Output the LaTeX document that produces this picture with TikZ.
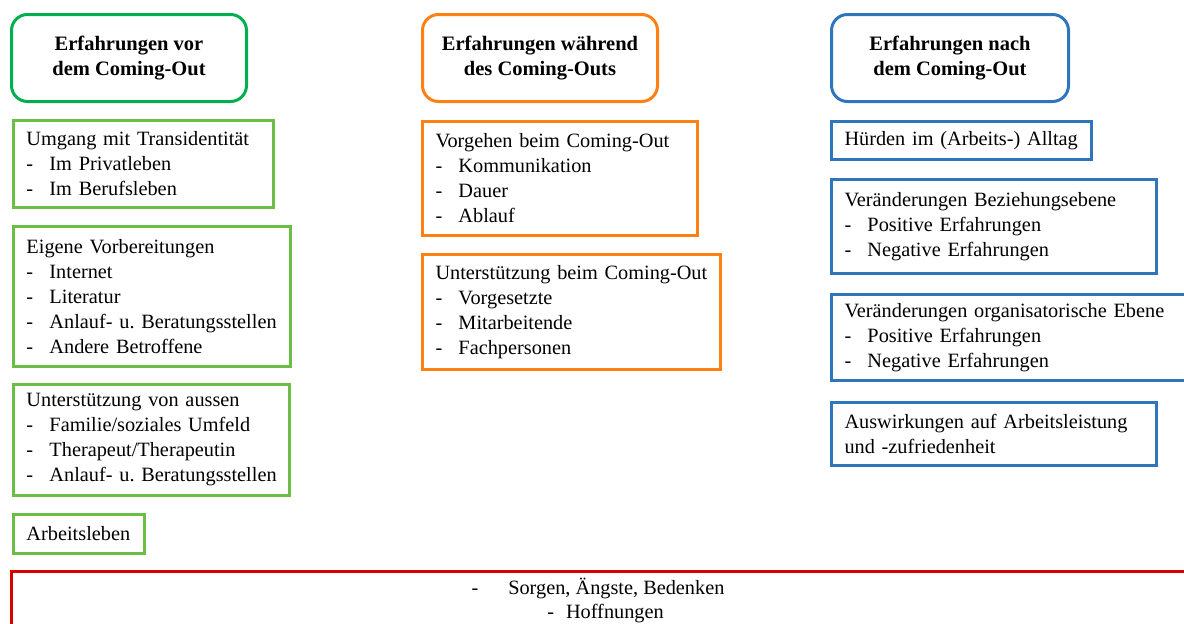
\documentclass[tikz,border=0pt]{standalone}
\usepackage{fontspec}
\setmainfont{Liberation Serif}
\frenchspacing
\definecolor{hgreen}{RGB}{0,176,80}
\definecolor{bgreen}{RGB}{106,189,69}
\definecolor{corange}{RGB}{252,128,20}
\definecolor{cblue}{RGB}{46,117,190}
\definecolor{cred}{RGB}{218,0,0}
\newcommand\itm[1]{\mbox{\makebox[23pt][l]{-}#1}}
\newcommand\ttl[1]{\mbox{#1}}
\begin{document}
\begin{tikzpicture}[x=1pt,y=-1pt,
  every node/.style={font=\fontsize{20.3}{25}\selectfont},
  hdr/.style={draw, line width=3pt, rounded corners=16pt, anchor=north west,
    align=center, minimum height=87pt, inner sep=0pt,
    font=\fontsize{20.5}{25}\selectfont\bfseries},
  boxx/.style={draw, line width=3pt, anchor=north west, align=left,
    inner xsep=13pt, inner ysep=0pt},
  gbox/.style={boxx, draw=bgreen},
  obox/.style={boxx, draw=corange},
  bbox/.style={boxx, draw=cblue}]
\useasboundingbox (0,0) rectangle (1184,624);
\clip (0,0) rectangle (1184,624);
% headers
\node[hdr, draw=hgreen, minimum width=235pt] (hg) at (10,13) {Erfahrungen vor\\dem Coming-Out};
\node[hdr, draw=corange, minimum width=235pt] (ho) at (421,13) {Erfahrungen während\\des Coming-Outs};
\node[hdr, draw=cblue, minimum width=237pt] (hb) at (830,13) {Erfahrungen nach\\dem Coming-Out};
% green column
\node[gbox, text width=234pt, minimum height=87pt] (g1) at (12,119)
  {\ttl{Umgang mit Transidentität}\\\itm{Im Privatleben}\\\itm{Im Berufsleben}};
\node[gbox, text width=251pt, minimum height=140pt] (g2) at (12,225)
  {\ttl{Eigene Vorbereitungen}\\\itm{Internet}\\\itm{Literatur}\\\itm{Anlauf- u. Beratungsstellen}\\\itm{Andere Betroffene}};
\node[gbox, text width=250pt, minimum height=111pt] (g3) at (12,383)
  {\ttl{Unterstützung von aussen}\\\itm{Familie/soziales Umfeld}\\\itm{Therapeut/Therapeutin}\\\itm{Anlauf- u. Beratungsstellen}};
\node[gbox, text width=105pt, minimum height=39pt] (g4) at (12,513)
  {\ttl{Arbeitsleben}};
% orange column
\node[obox, text width=249pt, minimum height=114pt] (o1) at (421,120)
  {\ttl{Vorgehen beim Coming-Out}\\\itm{Kommunikation}\\\itm{Dauer}\\\itm{Ablauf}};
\node[obox, text width=272pt, minimum height=115pt] (o2) at (421,253)
  {\ttl{Unterstützung beim Coming-Out}\\\itm{Vorgesetzte}\\\itm{Mitarbeitende}\\\itm{Fachpersonen}};
% blue column
\node[bbox, text width=234pt, minimum height=38pt] (b1) at (830,120)
  {\ttl{Hürden im (Arbeits-) Alltag}};
\node[bbox, text width=299pt, minimum height=94pt] (b2) at (830,178)
  {\ttl{Veränderungen Beziehungsebene}\\\itm{Positive Erfahrungen}\\\itm{Negative Erfahrungen}};
\node[bbox, text width=330pt, minimum height=86pt] (b3) at (830,293)
  {\ttl{Veränderungen organisatorische Ebene}\\\itm{Positive Erfahrungen}\\\itm{Negative Erfahrungen}};
\node[bbox, text width=299pt, minimum height=63pt] (b4) at (830,401)
  {\ttl{Auswirkungen auf Arbeitsleistung}\\\ttl{und -zufriedenheit}};
% red box
\node[draw=cred, line width=2.5pt, anchor=north west, minimum width=1190pt,
  minimum height=100pt, inner sep=0pt] (rb) at (10,570) {};
\node[anchor=north, align=center, inner sep=0pt, font=\fontsize{20.3}{24}\selectfont] (rt) at (598,578)
  {-\hspace{30pt}Sorgen, Ängste, Bedenken\\\hspace*{15pt}-\hspace{12pt}Hoffnungen};
\end{tikzpicture}
\end{document}
